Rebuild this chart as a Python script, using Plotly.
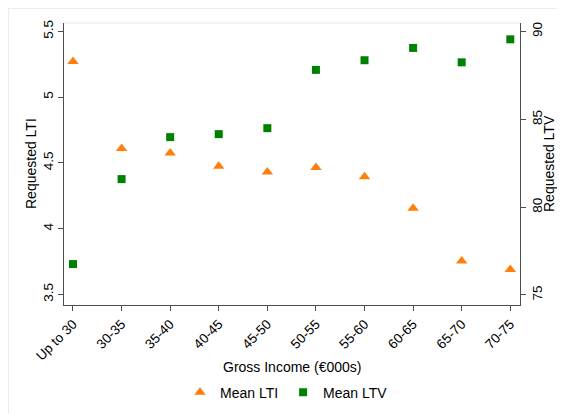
import plotly.graph_objects as go

categories = ["Up to 30", "30-35", "35-40", "40-45", "45-50", "50-55", "55-60", "60-65", "65-70", "70-75"]
mean_lti = [5.27, 4.61, 4.575, 4.475, 4.43, 4.465, 4.395, 4.155, 3.755, 3.69]
mean_ltv = [76.76, 81.6, 83.99, 84.16, 84.5, 87.82, 88.37, 89.07, 88.25, 89.56]
lti_ticks = [3.5, 4, 4.5, 5, 5.5]
lti_ticklabels = ["3.5", "4", "4.5", "5", "5.5"]
ltv_ticks = [75, 80, 85, 90]
ltv_ticklabels = ["75", "80", "85", "90"]

FONT = "Liberation Sans, Arial, sans-serif"
AXIS_COLOR = "#4d4d4d"
ORANGE = "#ff7f0e"
GREEN = "#008000"

x_idx = list(range(len(categories)))

fig = go.Figure()
fig.add_trace(go.Scatter(
    x=x_idx, y=mean_lti, mode="markers", name="Mean LTI",
    marker=dict(symbol="triangle-up", size=10, color=ORANGE, line=dict(width=0)),
    yaxis="y",
))
fig.add_trace(go.Scatter(
    x=x_idx, y=mean_ltv, mode="markers", name="Mean LTV",
    marker=dict(symbol="square", size=8, color=GREEN, line=dict(width=0)),
    yaxis="y2",
))

# page is offset by the 8px default body margin
W, H = 557, 406
L, R, T, B = 56, 45, 15, 109
PW, PH = W - L - R, H - T - B

tick_font = dict(family=FONT, size=13.5, color="#000000")
title_font = dict(family=FONT, size=14, color="#000000")

fig.update_layout(
    width=W, height=H,
    margin=dict(l=L, r=R, t=T, b=B, pad=0, autoexpand=False),
    paper_bgcolor="white", plot_bgcolor="white",
    font=dict(family=FONT, size=13, color="#000000"),
    showlegend=True,
    legend=dict(
        orientation="h", x=(180 - 8 - L) / PW, y=-(384.7 - (H - B)) / PH,
        xanchor="left", yanchor="middle",
        font=title_font, itemwidth=30, tracegroupgap=0,
        bgcolor="rgba(0,0,0,0)",
    ),
    xaxis=dict(
        range=[-0.185, 9.2], tickmode="array", tickvals=x_idx, ticktext=categories,
        tickangle=-45, ticks="outside", ticklen=5, tickcolor=AXIS_COLOR,
        showline=True, linecolor=AXIS_COLOR, linewidth=1, showgrid=False, zeroline=False,
        tickfont=tick_font, automargin=False,
    ),
    yaxis=dict(
        range=[3.42, 5.563], tickmode="array", tickvals=lti_ticks, ticktext=lti_ticklabels,
        tickangle=-90, ticks="outside", ticklen=5, tickcolor=AXIS_COLOR,
        showline=True, linecolor=AXIS_COLOR, linewidth=1, showgrid=False, zeroline=False,
        tickfont=tick_font, automargin=False,
    ),
    yaxis2=dict(
        range=[74.43, 90.49], tickmode="array", tickvals=ltv_ticks, ticktext=ltv_ticklabels,
        tickangle=-90, ticks="outside", ticklen=5, tickcolor=AXIS_COLOR,
        showline=True, linecolor=AXIS_COLOR, linewidth=1, showgrid=False, zeroline=False,
        overlaying="y", side="right", tickfont=tick_font, automargin=False,
    ),
    shapes=[
        dict(type="rect", xref="paper", yref="paper",
             x0=-(L - 0.5) / PW, x1=(W + 5 - L) / PW,
             y0=-(B + 5) / PH, y1=1 + (T - 0.5) / PH,
             line=dict(color="#e6eff0", width=1.2), layer="below"),
        dict(type="line", xref="paper", yref="paper", x0=0, x1=1, y0=1, y1=1,
             line=dict(color="#e3ebec", width=1), layer="below"),
    ],
    annotations=[
        dict(text="Gross Income (€000s)", xref="paper", yref="paper",
             x=0.5, y=-(358.7 - (H - B)) / PH,
             xanchor="center", yanchor="middle", showarrow=False,
             font=title_font),
        dict(text="Requested LTI", xref="paper", yref="paper",
             x=-(L - 23) / PW, y=0.5, textangle=-90,
             xanchor="center", yanchor="middle", showarrow=False,
             font=title_font),
        dict(text="Requested LTV", xref="paper", yref="paper",
             x=(541 - L) / PW, y=0.5, textangle=-90,
             xanchor="center", yanchor="middle", showarrow=False,
             font=title_font),
    ],
)

fig.write_html("out.html")
